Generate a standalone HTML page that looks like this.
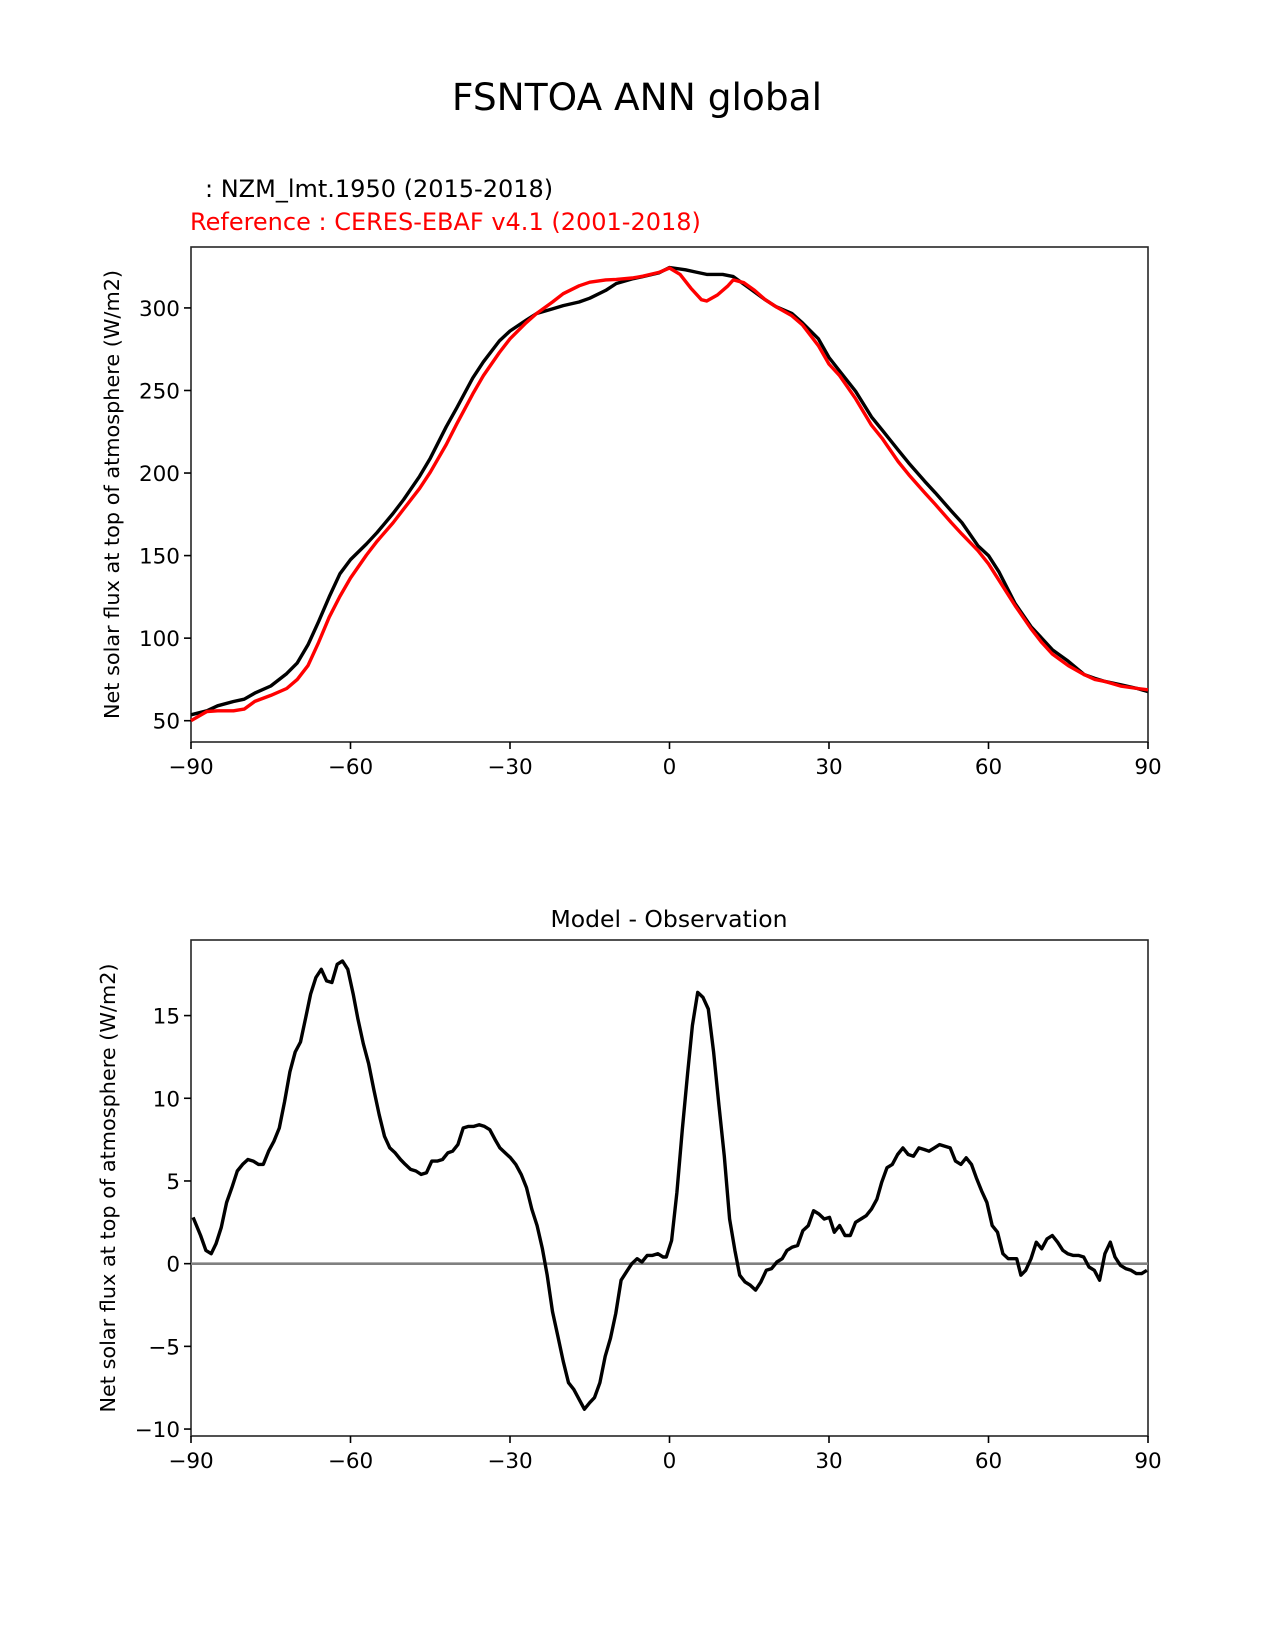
<!DOCTYPE html>
<html><head><meta charset="utf-8"><style>
html,body{margin:0;padding:0;background:#fff;}
svg{display:block;font-family:"DejaVu Sans","Liberation Sans",sans-serif;}
</style></head><body>
<svg id="fig" width="1275" height="1650" viewBox="0 0 1275 1650" xmlns="http://www.w3.org/2000/svg">
<rect width="1275" height="1650" fill="#fff"/>
<text x="637" y="110" font-size="37.5" text-anchor="middle">FSNTOA ANN global</text>
<text x="205" y="197" font-size="24">  : NZM_lmt.1950 (2015-2018)</text>
<text x="190" y="230" font-size="24" fill="#ff0000">Reference : CERES-EBAF v4.1 (2001-2018)</text>
<text x="669" y="927" font-size="23.5" text-anchor="middle">Model - Observation</text>
<g id="top"></g>
<g id="bot"></g>
</svg>
<script>
const xTicks = [-90,-60,-30,0,30,60,90];
const xTickLabels = ["\u221290","\u221260","\u221230","0","30","60","90"];
const topYTicks = [50,100,150,200,250,300];
const topYTickLabels = ["50","100","150","200","250","300"];
const botYTicks = [-10,-5,0,5,10,15];
const botYTickLabels = ["\u221210","\u22125","0","5","10","15"];

const modelLat = [-90,-87,-85,-82,-80,-78,-75,-72,-70,-68,-66,-64,-62,-60,-57,-55,-52,-50,-47,-45,-42,-40,-37,-35,-32,-30,-27,-25,-22,-20,-17,-15,-12,-10,-7,-5,-2,0,3,5,7,10,12,15,18,20,23,25,28,30,32,35,38,40,43,45,48,50,53,55,58,60,62,65,68,70,72,75,78,80,82,85,88,90];
const modelVals = [53.6,56,59,61.6,63,66.7,71,78.5,85,96,110,125,139,147.6,157,164,175.5,184,198,209,228,239.5,257.6,267.4,280,286,292.5,296.6,299.4,301.4,303.6,305.9,310.6,314.8,317.6,319,321.2,324.5,323.1,321.7,320.3,320.3,319,312,305,300.8,296.7,291,281.3,270,261.8,249.5,234,226,214,206,195,188,177,170,156,150,140,121,107,100,93,86,77.9,75.6,73.7,71.7,69.5,67.6];
const refLat = [-90,-87,-85,-82,-80,-78,-75,-72,-70,-68,-66,-64,-62,-60,-57,-55,-52,-50,-47,-45,-42,-40,-37,-35,-32,-30,-27,-25,-22,-20,-17,-15,-12,-10,-7,-5,-2,0,2,4,6,7,9,11,12,14,16,18,20,23,25,28,30,32,35,38,40,43,45,48,50,53,55,58,60,62,65,68,70,72,75,78,80,82,85,88,90];
const refVals = [50,55.6,56,56,57,61.7,65.3,69.5,75,83.4,97.4,112.7,125.3,136.4,150.3,158.7,169.8,178.2,190.7,200.5,217.2,229.8,247.9,259,273,281.3,291,296.6,303.6,308.6,313.4,315.6,317,317.3,318.1,319.2,321.5,324.2,320.3,312,305,304.2,307.8,313.4,317,315.3,310.6,305,300.8,295.3,289.7,277.1,266,259,245,229,221,207,199,188,181,170,163,153,145,135,119.7,105.7,97.4,90.4,83.4,77.9,75,73.7,70.9,69.5,68.7];

const diffLat = [-89.6,-88.2,-87.2,-86.2,-85.3,-84.3,-83.3,-82.3,-81.3,-80.3,-79.3,-78.3,-77.3,-76.4,-75.4,-74.4,-73.4,-72.4,-71.4,-70.4,-69.4,-68.4,-67.5,-66.5,-65.5,-64.5,-63.5,-62.5,-61.5,-60.5,-59.5,-58.6,-57.6,-56.6,-55.6,-54.6,-53.6,-52.6,-51.6,-50.6,-49.7,-48.7,-47.7,-46.7,-45.7,-44.7,-43.7,-42.7,-41.7,-40.8,-39.8,-38.8,-37.8,-36.8,-35.8,-34.8,-33.8,-32.8,-31.9,-30.9,-29.9,-28.9,-27.9,-26.9,-25.9,-24.9,-23.9,-23.0,-22.0,-21.0,-20.0,-19.0,-18.0,-17.0,-16.0,-15.0,-14.1,-13.1,-12.1,-11.1,-10.1,-9.1,-8.1,-7.1,-6.1,-5.2,-4.2,-3.2,-2.2,-1.2,-0.6,0.4,1.4,2.4,3.4,4.3,5.3,6.3,7.3,8.3,9.3,10.3,11.3,12.3,13.2,14.2,15.2,16.2,17.2,18.2,19.2,20.2,21.2,22.1,23.1,24.1,25.1,26.1,27.1,28.1,29.1,30.1,31.0,32.0,33.0,34.0,35.0,36.0,37.0,38.0,39.0,39.9,40.9,41.9,42.9,43.9,44.9,45.9,46.9,47.9,48.8,49.8,50.8,51.8,52.8,53.8,54.8,55.8,56.8,57.7,58.7,59.7,60.7,61.7,62.7,63.7,64.7,65.3,66.1,67.0,68.0,69.0,70.0,71.0,72.0,73.0,74.0,74.9,75.9,76.9,77.9,78.9,79.9,80.9,81.9,82.9,83.8,84.8,85.8,86.8,87.8,88.8,89.8];
const diffVals = [2.8,1.7,0.8,0.6,1.2,2.2,3.7,4.6,5.6,6.0,6.3,6.2,6.0,6.0,6.8,7.4,8.2,9.8,11.6,12.8,13.4,14.9,16.3,17.3,17.8,17.1,17.0,18.1,18.3,17.8,16.3,14.8,13.3,12.1,10.5,9.0,7.7,7.0,6.7,6.3,6.0,5.7,5.6,5.4,5.5,6.2,6.2,6.3,6.7,6.8,7.2,8.2,8.3,8.3,8.4,8.3,8.1,7.5,7.0,6.7,6.4,6.0,5.4,4.6,3.3,2.3,0.9,-0.7,-2.9,-4.4,-5.9,-7.2,-7.6,-8.2,-8.8,-8.4,-8.1,-7.2,-5.6,-4.5,-3.0,-1.0,-0.5,0,0.3,0.1,0.5,0.5,0.6,0.4,0.4,1.4,4.3,8.1,11.5,14.4,16.4,16.1,15.4,12.8,9.6,6.5,2.7,0.8,-0.7,-1.1,-1.3,-1.6,-1.1,-0.4,-0.3,0.1,0.3,0.8,1.0,1.1,2.0,2.3,3.2,3.0,2.7,2.8,1.9,2.3,1.7,1.7,2.5,2.7,2.9,3.3,3.9,4.9,5.8,6.0,6.6,7.0,6.6,6.5,7.0,6.9,6.8,7.0,7.2,7.1,7.0,6.2,6.0,6.4,6.0,5.2,4.4,3.7,2.3,1.9,0.6,0.3,0.3,0.3,-0.7,-0.4,0.3,1.3,0.9,1.5,1.7,1.3,0.8,0.6,0.5,0.5,0.4,-0.2,-0.4,-1.0,0.6,1.3,0.4,-0.1,-0.3,-0.4,-0.6,-0.6,-0.4];

const NS = "http://www.w3.org/2000/svg";
function mk(parent, tag, attrs) {
  const e = document.createElementNS(NS, tag);
  for (const k in attrs) e.setAttribute(k, attrs[k]);
  parent.appendChild(e);
  return e;
}
function panel(g, top, bottom, ymin, ymax, yt, ytl, nameP) {
  const L = 191, R = 1148;
  const sx = v => L + (v + 90) / 180 * (R - L);
  const sy = v => bottom - (v - ymin) / (ymax - ymin) * (bottom - top);
  const frame = mk(g, "rect", {x: L, y: top, width: R - L, height: bottom - top, fill: "none", stroke: "#262626", "stroke-width": 1.6});
  
  
  xTicks.forEach((t, i) => {
    const tk = mk(g, "line", {x1: sx(t), x2: sx(t), y1: bottom, y2: bottom + 7, stroke: "#000", "stroke-width": 1.6});
    
    
    const tl = mk(g, "text", {x: sx(t), y: bottom + 32, "font-size": 21.5, "text-anchor": "middle"});
    tl.textContent = xTickLabels[i];
    
    
  });
  yt.forEach((t, i) => {
    const tk = mk(g, "line", {x1: L - 7, x2: L, y1: sy(t), y2: sy(t), stroke: "#000", "stroke-width": 1.6});
    
    
    const tl = mk(g, "text", {x: L - 11, y: sy(t) + 8, "font-size": 21.5, "text-anchor": "end"});
    tl.textContent = ytl[i];
    
    
  });
  const cy = (top + bottom) / 2;
  const yl = mk(g, "text", {x: 0, y: 0, "font-size": 20.8, "text-anchor": "middle", transform: "translate(" + (nameP === 'top' ? 119 : 115) + "," + cy + ") rotate(-90)"});
  yl.textContent = "Net solar flux at top of atmosphere (W/m2)";
  
  
  return {sx, sy};
}
function line(g, s, xs, ys, color, w, name) {
  const d = xs.map((x, i) => (i ? "L" : "M") + s.sx(x).toFixed(1) + "," + s.sy(ys[i]).toFixed(1)).join("");
  const p = mk(g, "path", {d: d, fill: "none", stroke: color, "stroke-width": w, "stroke-linejoin": "round"});
  
  
}
const gt = document.getElementById("top");
const st = panel(gt, 247, 742, 37.1, 336.9, topYTicks, topYTickLabels, 'top');
line(gt, st, modelLat, modelVals, "#000", 3.4, 'model-line');
line(gt, st, refLat, refVals, "#ff0000", 3.4, 'reference-line');

const gb = document.getElementById("bot");
const sb = panel(gb, 940, 1436, -10.42, 19.57, botYTicks, botYTickLabels, 'bottom');
const z = mk(gb, "line", {x1: 191, x2: 1148, y1: sb.sy(0), y2: sb.sy(0), stroke: "#808080", "stroke-width": 2.6});


line(gb, sb, diffLat, diffVals, "#000", 3.4, 'difference-line');
</script>
</body></html>
